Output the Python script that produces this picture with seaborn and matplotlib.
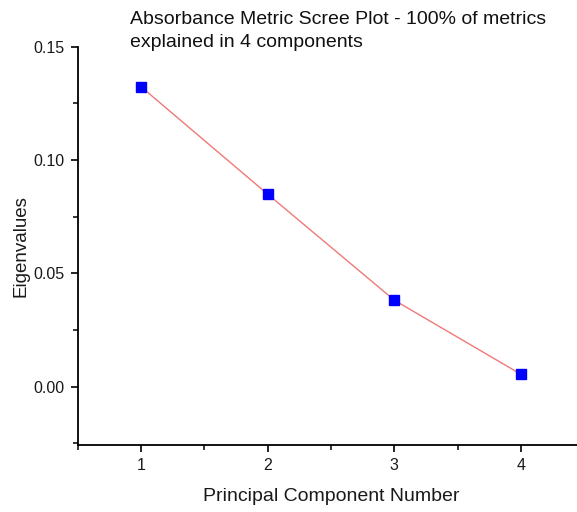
import matplotlib
matplotlib.use("Agg")
import matplotlib.pyplot as plt
from matplotlib.ticker import MultipleLocator
import seaborn as sns
import pandas as pd

components = [1, 2, 3, 4]
eigenvalues = [0.1324, 0.0850, 0.0382, 0.0055]
x_ticks = [1, 2, 3, 4]
y_ticks = [0.00, 0.05, 0.10, 0.15]
title = "Absorbance Metric Scree Plot - 100% of metrics\nexplained in 4 components"

sns.set_theme(style="ticks")
plt.rcParams["font.family"] = ["Liberation Sans", "DejaVu Sans"]

df = pd.DataFrame({"component": components, "eigenvalue": eigenvalues})

W, H = 577, 512
fig = plt.figure(figsize=(W / 100, H / 100), dpi=100)
left_px, right_px, top_px, bottom_px = 77.5, 584.3, 46.7, 445.0
ax = fig.add_axes([left_px / W, 1 - bottom_px / H,
                   (right_px - left_px) / W, (bottom_px - top_px) / H])

sns.lineplot(data=df, x="component", y="eigenvalue", ax=ax,
             color="#f07878", linewidth=1.0, zorder=2)
ax.plot(df["component"], df["eigenvalue"], linestyle="none", marker="s",
        markersize=6.5, markerfacecolor="#0000ff", markeredgecolor="#0000ff",
        zorder=3)

ax.set_xlim(0.5, 4.5)
ax.set_ylim(-0.0257, 0.15)
ax.set_xticks(x_ticks)
ax.set_xticklabels([str(t) for t in x_ticks])
ax.set_yticks(y_ticks)
ax.set_yticklabels([f"{t:.2f}" for t in y_ticks])
ax.xaxis.set_minor_locator(MultipleLocator(0.5))
ax.yaxis.set_minor_locator(MultipleLocator(0.025))

for side in ("top", "right"):
    ax.spines[side].set_visible(False)
for side in ("left", "bottom"):
    ax.spines[side].set_color("black")
    ax.spines[side].set_linewidth(1.3)

ax.tick_params(axis="both", which="major", direction="out", length=5,
               width=1.2, color="black", labelsize=11.5, labelcolor="#1a1a1a")
ax.tick_params(axis="y", which="major", pad=4)
ax.tick_params(axis="x", which="major", pad=4)
ax.tick_params(axis="both", which="minor", direction="out", length=3.5,
               width=1.1, color="black")

ax.set_xlabel("Principal Component Number", fontsize=14, color="#1a1a1a", labelpad=11)
ax.set_ylabel("Eigenvalues", fontsize=13.5, color="#1a1a1a", labelpad=3)

fig.text(130 / W, 1 - 11 / H, title, fontsize=14, color="#111111",
         ha="left", va="top", linespacing=1.47)

fig.savefig("out.png", dpi=100)
